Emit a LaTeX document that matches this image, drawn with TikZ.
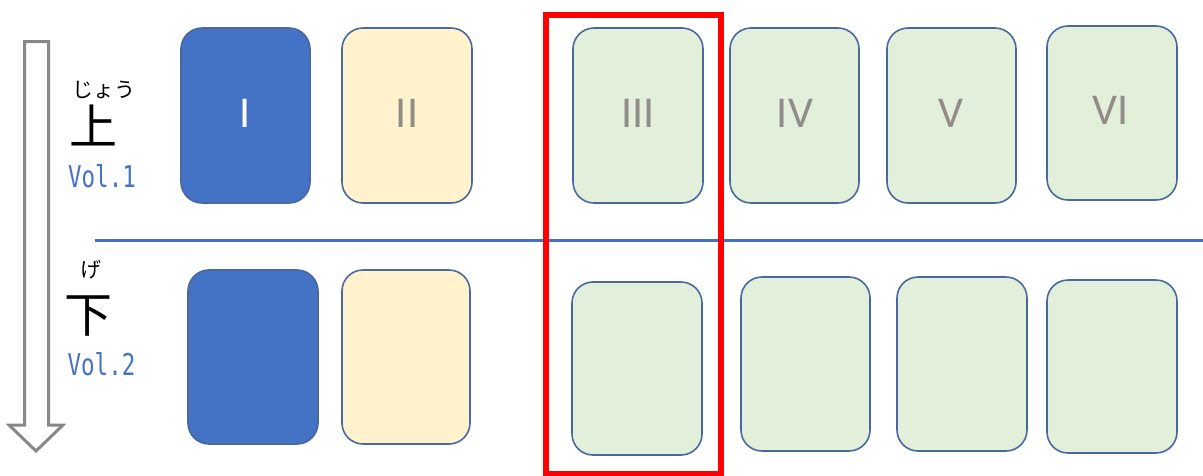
\documentclass[tikz,border=0pt]{standalone}
\usepackage{fontspec}
\newfontfamily\jp{Noto Sans CJK JP}
\newfontfamily\numfont{Carlito}
\newfontfamily\volfont{DejaVu Sans Mono}
\definecolor{cardblue}{RGB}{68,114,196}
\definecolor{cardcream}{RGB}{255,242,204}
\definecolor{cardgreen}{RGB}{226,239,218}
\definecolor{cardedge}{RGB}{72,104,158}
\definecolor{numgray}{RGB}{145,140,135}
\definecolor{arrowgray}{RGB}{136,136,136}
\tikzset{
  card/.style={draw=cardedge, line width=1.6pt, rounded corners=21pt, rectangle, inner sep=0pt},
  numlabel/.style={font=\numfont\fontsize{44}{44}\selectfont, text=numgray, inner sep=0pt},
  rubytext/.style={font=\jp\fontsize{21}{21}\selectfont, inner sep=0pt},
  bigkanji/.style={font=\jp\fontsize{48}{48}\selectfont, inner sep=0pt},
  vollabel/.style={text=cardblue, inner sep=0pt}
}
\begin{document}
\begin{tikzpicture}[x=1pt,y=-1pt]
\useasboundingbox (0,0) rectangle (1203,475);
% hollow arrow
\draw[arrowgray, line width=3pt, line join=miter] (24.5,41.5) -- (48.5,41.5) -- (48.5,425) -- (63,425) -- (36,451) -- (9,425) -- (24.5,425) -- cycle;
% labels
\node[rubytext] (ruby1) at (103.5,90) {じょう};
\node[bigkanji] (kanji1) at (93.5,125) {上};
\node[vollabel] (vol1) at (102,176) {\scalebox{0.75}[1]{\volfont\fontsize{30}{30}\selectfont Vol.1}};
\node[rubytext] (ruby2) at (91,270) {げ};
\node[bigkanji] (kanji2) at (88,316) {下};
\node[vollabel] (vol2) at (101.5,364) {\scalebox{0.75}[1]{\volfont\fontsize{30}{30}\selectfont Vol.2}};
% divider
\draw[cardblue, line width=3pt] (95,240) -- (1203,240);
% top row
\node[card, fill=cardblue, minimum width=129pt, minimum height=175pt] (c1) at (245.5,115.5) {};
\node[card, fill=cardcream, minimum width=130pt, minimum height=175pt] (c2) at (407,115.5) {};
\node[card, fill=cardgreen, minimum width=130pt, minimum height=175pt] (c3) at (638,115.5) {};
\node[card, fill=cardgreen, minimum width=129pt, minimum height=175pt] (c4) at (794.5,115.5) {};
\node[card, fill=cardgreen, minimum width=129pt, minimum height=175pt] (c5) at (951.5,115.5) {};
\node[card, fill=cardgreen, minimum width=130pt, minimum height=174pt] (c6) at (1112,113) {};
\node[numlabel, text=white] (n1) at (245.5,113) {I};
\node[numlabel] (n2) at (407,113) {II};
\node[numlabel] (n3) at (638,113) {III};
\node[numlabel] (n4) at (795,113) {IV};
\node[numlabel] (n5) at (951,113) {V};
\node[numlabel] (n6) at (1111,110) {VI};
% bottom row
\node[card, fill=cardblue, minimum width=130pt, minimum height=174pt] (d1) at (253,357) {};
\node[card, fill=cardcream, minimum width=128pt, minimum height=174pt] (d2) at (406,357) {};
\node[card, fill=cardgreen, minimum width=130pt, minimum height=173pt] (d3) at (637,368.5) {};
\node[card, fill=cardgreen, minimum width=129pt, minimum height=174pt] (d4) at (805.5,364) {};
\node[card, fill=cardgreen, minimum width=130pt, minimum height=174pt] (d5) at (962,364) {};
\node[card, fill=cardgreen, minimum width=130pt, minimum height=173pt] (d6) at (1112,366.5) {};
% red highlight
\draw[red, line width=6pt] (546,15) rectangle (721,474);
\end{tikzpicture}
\end{document}
